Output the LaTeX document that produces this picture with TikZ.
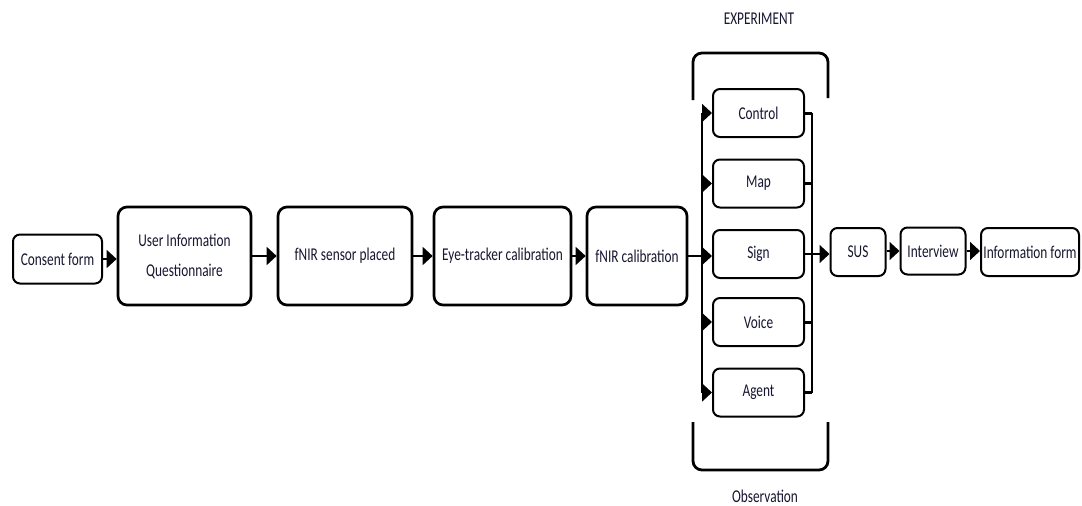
\documentclass[tikz,border=0pt]{standalone}
\usepackage{fontspec}
\setmainfont{Carlito}[FakeStretch=0.74]
\usetikzlibrary{arrows.meta,calc}
\definecolor{txt}{RGB}{22,22,48}
\begin{document}
\begin{tikzpicture}[x=1pt,y=-1pt,
  lbl/.style={font=\fontsize{18}{22}\selectfont, text=txt, align=center, inner sep=0pt},
  box/.style={lbl, draw, line width=2.7pt, rounded corners=9pt},
  sbox/.style={lbl, draw, line width=2pt, rounded corners=7pt},
  arr/.style={line width=1.8pt, -{Triangle[length=10pt,width=18pt]}},
  ln/.style={line width=1.8pt},
  tln/.style={line width=3pt},
  brk/.style={line width=2.8pt, rounded corners=9pt}]
\useasboundingbox (0,0) rectangle (1082,506);

% main row
\node[sbox, minimum width=89pt, minimum height=49pt] (consent) at (57.5,259) {Consent form};
\node[box, minimum width=133pt, minimum height=98pt] (uiq) at (184.5,256) {User Information\\[8pt]Questionnaire};
\node[box, minimum width=134pt, minimum height=98pt] (fsens) at (345,256) {fNIR sensor placed};
\node[box, minimum width=137pt, minimum height=98pt] (eye) at (502.5,256) {Eye-tracker calibration};
\node[box, minimum width=100pt, minimum height=98pt] (fcal) at (637,256) {fNIR calibration};

% experiment boxes
\node[sbox, minimum width=91pt, minimum height=48pt] (ctl) at (758.5,113) {Control};
\node[sbox, minimum width=91pt, minimum height=48pt] (map) at (758.5,183.5) {Map};
\node[sbox, minimum width=91pt, minimum height=48pt] (sign) at (758.5,254) {Sign};
\node[sbox, minimum width=91pt, minimum height=48pt] (voice) at (758.5,322) {Voice};
\node[sbox, minimum width=91pt, minimum height=48pt] (agent) at (758.5,392.5) {Agent};

% final row
\node[sbox, minimum width=55pt, minimum height=48pt] (sus) at (858,252) {SUS};
\node[sbox, minimum width=65pt, minimum height=47pt] (intv) at (933,251) {Interview};
\node[sbox, minimum width=98pt, minimum height=48pt] (info) at (1030,252) {Information form};

% labels
\node[lbl] (explbl) at (759,19) {EXPERIMENT};
\node[lbl] (obslbl) at (765,496) {Observation};

% bus coordinates
\coordinate (lt) at (702,113);
\coordinate (lb) at (702,392.5);
\coordinate (rt) at (812,113);
\coordinate (rb) at (812,392.5);

% connectors main row
\draw[arr] (consent.east) -- (consent.east -| uiq.west);
\draw[arr] (uiq.east |- fsens.west) -- (fsens.west);
\draw[arr] (fsens.east) -- (eye.west);
\draw[arr] (eye.east) -- (fcal.west);
\draw[arr] (fcal.east) -- (fcal.east -| sign.west);

% left bus
\draw[ln] (lt) -- (lb);
\foreach \n in {ctl,map,voice,agent}
  \draw[arr] (lt |- \n.west) -- (\n.west);

% right bus
\draw[ln] (rt) -- (rb);
\foreach \n in {ctl,map,voice,agent}
  \draw[tln] (\n.east) -- (rt |- \n.east);
\draw[arr] (sign.east) -- (sign.east -| sus.west);

\draw[arr] (sus.east |- intv.west) -- (intv.west);
\draw[arr] (intv.east) -- (intv.east -| info.west);

% brackets
\draw[brk] (693,100) -- (693,53) -- (828,53) -- (828,98);
\draw[brk] (693,422) -- (693,470) -- (828,470) -- (828,422);
\end{tikzpicture}
\end{document}
